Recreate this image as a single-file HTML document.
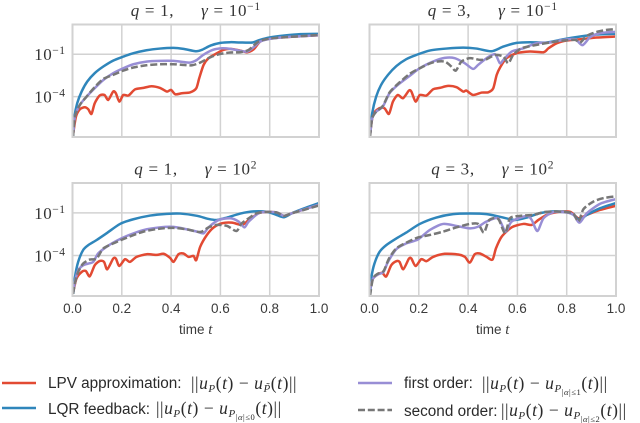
<!DOCTYPE html>
<html>
<head>
<meta charset="utf-8">
<style>
html,body{margin:0;padding:0;background:#fff;}
svg{display:block;}
.tick{font-family:"Liberation Sans",sans-serif;font-size:13.5px;fill:#3a3a3a;}
.ser{font-family:"Liberation Serif",serif;fill:#333;}
.leg{font-family:"Liberation Sans",sans-serif;font-size:15.3px;fill:#2a2a2a;}
.m{font-family:"Liberation Serif",serif;font-size:17.5px;fill:#2a2a2a;letter-spacing:.55px;}
.i{font-style:italic;}
</style>
</head>
<body>
<svg id="chart" width="640" height="423" viewBox="0 0 640 423" xmlns="http://www.w3.org/2000/svg">
  <g id="panels"></g>
  <g>
    <line x1="2" x2="36" y1="383" y2="383" stroke="#E24A33" stroke-width="2.6"/>
    <text x="48" y="388" class="leg">LPV approximation:</text>
    <text x="191" y="389" class="m">||<tspan class="i">u</tspan><tspan class="i" font-size="11" dy="3">P</tspan><tspan dy="-3">(</tspan><tspan class="i">t</tspan>) − <tspan class="i">u</tspan><tspan class="i" font-size="11" dy="3">P̃</tspan><tspan dy="-3">(</tspan><tspan class="i">t</tspan>)||</text>

    <line x1="2" x2="36" y1="408" y2="408" stroke="#2F86BB" stroke-width="2.6"/>
    <text x="48" y="414" class="leg">LQR feedback:</text>
    <text x="156" y="414" class="m">||<tspan class="i">u</tspan><tspan class="i" font-size="11" dy="3">P</tspan><tspan dy="-3">(</tspan><tspan class="i">t</tspan>) − <tspan class="i">u</tspan><tspan class="i" font-size="11" dy="3">P</tspan><tspan font-size="8.5" dy="3">|</tspan><tspan class="i" font-size="8.5">α</tspan><tspan font-size="8.5">|≤0</tspan><tspan dy="-6">(</tspan><tspan class="i">t</tspan>)||</text>

    <line x1="358" x2="392" y1="383" y2="383" stroke="#988ED5" stroke-width="2.6"/>
    <text x="404" y="388" class="leg">first order:</text>
    <text x="482" y="389" class="m">||<tspan class="i">u</tspan><tspan class="i" font-size="11" dy="3">P</tspan><tspan dy="-3">(</tspan><tspan class="i">t</tspan>) − <tspan class="i">u</tspan><tspan class="i" font-size="11" dy="3">P</tspan><tspan font-size="8.5" dy="3">|</tspan><tspan class="i" font-size="8.5">α</tspan><tspan font-size="8.5">|≤1</tspan><tspan dy="-6">(</tspan><tspan class="i">t</tspan>)||</text>

    <line x1="358" x2="392" y1="410" y2="410" stroke="#777777" stroke-width="2.6" stroke-dasharray="7 2.8"/>
    <text x="404" y="416" class="leg">second order:</text>
    <text x="501" y="416" class="m">||<tspan class="i">u</tspan><tspan class="i" font-size="11" dy="3">P</tspan><tspan dy="-3">(</tspan><tspan class="i">t</tspan>) − <tspan class="i">u</tspan><tspan class="i" font-size="11" dy="3">P</tspan><tspan font-size="8.5" dy="3">|</tspan><tspan class="i" font-size="8.5">α</tspan><tspan font-size="8.5">|≤2</tspan><tspan dy="-6">(</tspan><tspan class="i">t</tspan>)||</text>
  </g>
</svg>
<script>
// Axis ticks
const xTicks = [0, 0.2, 0.4, 0.6, 0.8, 1.0];
const xTickLabels = ['0.0', '0.2', '0.4', '0.6', '0.8', '1.0'];
const yTicks = [-1, -4];
const yTickBase = '10';
const yTickExps = ['−1', '−4'];
const yMin = -6.85, yMax = 1.1;

// Panel 1: q = 1, gamma = 10^-1 (values are log10 of the error)
const p1LpvT = [.003,.014,.03,.05,.064,.077,.09,.11,.13,.145,.165,.176,.19,.206,.227,.254,.288,.32,.355,.383,.40,.417,.444,.478,.502,.514,.532,.552,.586,.613,.64,.68,.708,.735,.762,.8,.864,.925,1];
const p1LpvV = [-6.6,-5.41,-4.89,-4.75,-4.89,-5.22,-4.47,-3.92,-3.88,-4.23,-3.64,-3.76,-4.35,-3.88,-3.92,-3.48,-3.38,-3.26,-3.38,-3.64,-3.52,-3.83,-3.76,-3.69,-3.41,-2.7,-1.75,-1.28,-.93,-.69,-.62,-.74,-.86,-.65,-.1,.1,.2,.27,.34];
const p1LqrT = [.002,.008,.019,.037,.06,.09,.125,.165,.206,.247,.30,.355,.41,.45,.5,.525,.56,.60,.64,.68,.73,.76,.80,.86,.925,1];
const p1LqrV = [-6.83,-5.41,-4.47,-3.64,-2.93,-2.34,-1.87,-1.45,-1.17,-.93,-.72,-.60,-.55,-.62,-.79,-.69,-.39,-.2,-.15,-.17,-.17,.01,.18,.32,.42,.44];
const p1FirstT = [.003,.01,.03,.057,.09,.125,.165,.206,.247,.30,.355,.41,.445,.478,.505,.53,.57,.607,.64,.68,.71,.735,.762,.80,.857,.925,1];
const p1FirstV = [-6.6,-5.4,-4.58,-4.0,-3.4,-2.82,-2.34,-1.99,-1.71,-1.52,-1.47,-1.47,-1.54,-1.59,-1.4,-1.05,-.69,-.58,-.62,-.76,-.81,-.5,-.1,.08,.2,.27,.34];
const p1SecondT = [.002,.01,.03,.057,.09,.125,.165,.206,.247,.30,.355,.41,.445,.485,.518,.56,.60,.64,.68,.715,.755,.80,.857,.925,1];
const p1SecondV = [-6.85,-5.4,-4.58,-4.0,-3.33,-2.75,-2.46,-2.16,-1.94,-1.78,-1.71,-1.71,-1.75,-1.78,-1.59,-1.21,-.98,-.88,-.86,-.69,-.1,.1,.2,.27,.37];

// Panel 2: q = 3, gamma = 10^-1
const p2LpvT = [.003,.014,.04,.061,.079,.095,.115,.136,.16,.17,.187,.204,.231,.258,.285,.319,.353,.38,.393,.42,.455,.482,.502,.516,.532,.556,.597,.651,.706,.726,.76,.80,.855,.923,1];
const p2LpvV = [-6.6,-5.29,-4.82,-4.82,-5.22,-4.35,-3.88,-4.11,-3.57,-3.64,-4.35,-3.88,-3.92,-3.48,-3.38,-3.24,-3.33,-3.64,-3.57,-3.88,-3.71,-3.69,-3.41,-2.46,-1.87,-1.28,-.93,-.81,-.86,-.58,-.22,-.03,.06,.18,.25];
const p2LqrT = [.003,.011,.027,.047,.075,.109,.149,.19,.244,.312,.38,.434,.495,.543,.597,.651,.719,.787,.855,.923,1];
const p2LqrV = [-6.59,-5.17,-4,-3.17,-2.46,-1.84,-1.35,-1.05,-.74,-.6,-.53,-.6,-.79,-.46,-.2,-.15,-.17,.06,.25,.39,.44];
const p2FirstT = [.003,.011,.027,.054,.081,.115,.163,.204,.258,.305,.346,.387,.42,.441,.475,.509,.529,.543,.577,.624,.678,.733,.787,.834,.864,.895,.936,1];
const p2FirstV = [-6.6,-5.53,-5.06,-4.7,-3.76,-3.17,-2.53,-1.99,-1.52,-1.26,-1.28,-1.64,-2.04,-1.75,-1.28,-1,-1.64,-1.4,-.81,-.58,-.22,-.17,.01,.06,-.36,.2,.49,.58];
const p2SecondT = [.002,.011,.027,.054,.081,.115,.163,.204,.258,.305,.332,.35,.373,.407,.448,.475,.509,.543,.563,.583,.617,.678,.733,.787,.834,.855,.882,.923,.963,1];
const p2SecondV = [-6.85,-5.53,-5.06,-4.66,-3.71,-3.1,-2.39,-1.99,-1.57,-1.52,-1.87,-2.16,-1.52,-1.28,-1.4,-1.35,-1.05,-1.17,-1.64,-1.05,-.58,-.34,-.17,-.03,.01,-.17,.3,.58,.72,.77];

// Panel 3: q = 1, gamma = 10^2
const p3LpvT = [.003,.016,.037,.054,.07,.09,.111,.128,.141,.165,.176,.19,.213,.233,.26,.301,.342,.369,.396,.41,.43,.45,.471,.491,.502,.518,.545,.573,.607,.647,.688,.715,.756,.79,.83,.858,.891,.939,1];
const p3LpvV = [-6.58,-5.63,-5.16,-5.09,-5.47,-4.69,-4.38,-4.45,-4.97,-4.22,-4.22,-4.74,-4.26,-4.45,-4.1,-3.91,-3.96,-3.88,-4.17,-4.45,-3.91,-3.86,-4.1,-4.03,-4.33,-3.39,-2.56,-2.02,-1.73,-1.69,-1.85,-1.5,-1.02,-.93,-.98,-1.21,-1.02,-.76,-.43];
const p3LqrT = [.003,.01,.023,.043,.064,.098,.138,.193,.247,.315,.383,.437,.505,.552,.586,.627,.681,.735,.79,.824,.858,.891,.939,1];
const p3LqrV = [-6.7,-5.52,-4.45,-3.62,-3.27,-2.91,-2.44,-1.78,-1.45,-1.19,-1.07,-1.05,-1.21,-1.43,-1.5,-1.33,-1.05,-.9,-.93,-1.12,-1.31,-1.02,-.69,-.31];
const p3FirstT = [.003,.011,.023,.043,.064,.084,.104,.138,.172,.22,.288,.355,.41,.464,.505,.532,.552,.593,.64,.674,.697,.715,.756,.79,.83,.858,.891,.939,1];
const p3FirstV = [-6.58,-5.75,-5.04,-4.69,-4.57,-4.45,-3.86,-3.39,-3.03,-2.63,-2.21,-2.02,-1.99,-2.16,-2.32,-2.44,-2.02,-1.5,-1.38,-1.61,-2.02,-1.61,-1.02,-.93,-.98,-1.21,-1.02,-.76,-.43];
const p3SecondT = [.002,.011,.023,.043,.07,.098,.125,.172,.22,.288,.355,.41,.464,.518,.552,.586,.627,.665,.684,.715,.749,.79,.83,.858,.891,.939,1];
const p3SecondV = [-6.7,-5.87,-5.16,-4.57,-4.29,-4.22,-3.51,-3.1,-2.75,-2.32,-2.11,-2.06,-2.16,-2.35,-2.02,-1.85,-1.92,-2.28,-1.78,-1.38,-1.02,-.93,-.98,-1.21,-1.02,-.79,-.48];

// Panel 4: q = 3, gamma = 10^2
const p4LpvT = [.003,.014,.034,.052,.068,.088,.109,.122,.137,.16,.17,.187,.21,.231,.258,.305,.36,.387,.407,.427,.448,.475,.499,.513,.536,.577,.624,.658,.685,.719,.76,.814,.848,.882,.936,1];
const p4LpvV = [-6.34,-5.63,-5.33,-5.23,-5.47,-4.69,-4.4,-4.45,-4.97,-4.22,-4.22,-4.74,-4.26,-4.4,-4.1,-3.88,-3.93,-4.1,-4.5,-3.91,-3.86,-4.1,-4.29,-3.5,-2.68,-2.02,-1.78,-1.85,-1.5,-1.14,-.95,-.93,-1.38,-1.14,-.79,-.5];
const p4LqrT = [.003,.008,.02,.041,.068,.109,.149,.204,.271,.339,.407,.475,.529,.59,.638,.692,.746,.8,.828,.852,.882,.936,1];
const p4LqrV = [-6.7,-5.52,-4.57,-3.74,-3.27,-2.8,-2.39,-1.78,-1.33,-1.09,-1.05,-1.09,-1.28,-1.5,-1.33,-1.02,-.9,-.95,-1.14,-1.5,-1.14,-.67,-.31];
const p4FirstT = [.003,.014,.034,.057,.075,.109,.149,.197,.244,.299,.353,.407,.441,.475,.522,.552,.577,.638,.658,.681,.706,.746,.8,.828,.852,.882,.936,1];
const p4FirstV = [-6.34,-5.63,-5.33,-5.16,-4.45,-3.55,-3.15,-2.87,-2.21,-1.78,-1.92,-2.09,-1.97,-1.61,-1.38,-2.32,-1.61,-1.21,-1.5,-2.28,-1.38,-.95,-.98,-1.14,-1.69,-1.02,-.36,-.03];
const p4SecondT = [.002,.014,.034,.057,.079,.109,.149,.197,.244,.299,.353,.407,.441,.464,.486,.522,.55,.57,.611,.665,.706,.746,.8,.828,.848,.868,.909,.95,1];
const p4SecondV = [-6.85,-5.63,-5.28,-5.1,-4.22,-3.5,-3.1,-2.73,-2.56,-2.32,-2.02,-1.78,-1.78,-2.39,-1.5,-1.43,-2.44,-1.38,-1.21,-1.14,-.95,-.9,-.95,-1.07,-1.61,-.74,-.2,.04,.16];

const panels = [
  {id:'q1-g01', q:'1', gamma:'10', exp:'−1', showY:true,  showX:false, left:72.5,  top:24.5,  bottom:137,
   lpv:[p1LpvT,p1LpvV], lqr:[p1LqrT,p1LqrV], first:[p1FirstT,p1FirstV], second:[p1SecondT,p1SecondV]},
  {id:'q3-g01', q:'3', gamma:'10', exp:'−1', showY:false, showX:false, left:369.5, top:24.5,  bottom:137,
   lpv:[p2LpvT,p2LpvV], lqr:[p2LqrT,p2LqrV], first:[p2FirstT,p2FirstV], second:[p2SecondT,p2SecondV]},
  {id:'q1-g100', q:'1', gamma:'10', exp:'2', showY:true,  showX:true,  left:72.5,  top:183, bottom:296,
   lpv:[p3LpvT,p3LpvV], lqr:[p3LqrT,p3LqrV], first:[p3FirstT,p3FirstV], second:[p3SecondT,p3SecondV]},
  {id:'q3-g100', q:'3', gamma:'10', exp:'2', showY:false, showX:true,  left:369.5, top:183, bottom:296,
   lpv:[p4LpvT,p4LpvV], lqr:[p4LqrT,p4LqrV], first:[p4FirstT,p4FirstV], second:[p4SecondT,p4SecondV]}
];

const SVGNS = 'http://www.w3.org/2000/svg';
const panelWidth = 246.5;
const smoothK = 0.13;
const root = document.getElementById('panels');

function mk(tag, parent, attrs, text) {
  const el = document.createElementNS(SVGNS, tag);
  for (const k in attrs) el.setAttribute(k, attrs[k]);
  if (text !== undefined) el.textContent = text;
  parent.appendChild(el);
  return el;
}

function drawSeries(g, xs, ys, X, Y, color, dash) {
  const px = xs.map(X), py = ys.map(Y), n = xs.length;
  let d = 'M' + px[0].toFixed(2) + ' ' + py[0].toFixed(2);
  for (let i = 0; i < n - 1; i++) {
    const a = Math.max(i - 1, 0), b = Math.min(i + 2, n - 1);
    const c1x = px[i] + (px[i + 1] - px[a]) * smoothK;
    const c1y = py[i] + (py[i + 1] - py[a]) * smoothK;
    const c2x = px[i + 1] - (px[b] - px[i]) * smoothK;
    const c2y = py[i + 1] - (py[b] - py[i]) * smoothK;
    d += 'C' + c1x.toFixed(2) + ' ' + c1y.toFixed(2) + ' ' + c2x.toFixed(2) + ' ' + c2y.toFixed(2) + ' ' + px[i + 1].toFixed(2) + ' ' + py[i + 1].toFixed(2);
  }
  const attrs = {d:d, fill:'none', stroke:color, 'stroke-width':'2.5', 'stroke-linejoin':'round'};
  if (dash) attrs['stroke-dasharray'] = dash;
  return mk('path', g, attrs);
}

panels.forEach(function (p) {
  const X = function (t) { return p.left + t * panelWidth; };
  const Y = function (v) { return p.top + (yMax - v) / (yMax - yMin) * (p.bottom - p.top); };

  const g = mk('g', root, {});
  
  

  // grid
  xTicks.slice(1, -1).forEach(function (t) {
    const l = mk('line', g, {x1:X(t), x2:X(t), y1:p.top, y2:p.bottom, stroke:'#d2d2d2', 'stroke-width':'1.5'});
    
    
  });
  yTicks.forEach(function (v) {
    const l = mk('line', g, {x1:p.left, x2:p.left + panelWidth, y1:Y(v), y2:Y(v), stroke:'#d2d2d2', 'stroke-width':'1.5'});
    
    
  });

  // series
  const s1 = drawSeries(g, p.lpv[0], p.lpv[1], X, Y, '#E24A33');
  
  
  const s2 = drawSeries(g, p.lqr[0], p.lqr[1], X, Y, '#2F86BB');
  
  
  const s3 = drawSeries(g, p.first[0], p.first[1], X, Y, '#988ED5');
  
  
  const s4 = drawSeries(g, p.second[0], p.second[1], X, Y, '#777777', '7 2.8');
  
  

  // frame
  const fr = mk('rect', g, {x:p.left, y:p.top, width:panelWidth, height:p.bottom - p.top, fill:'none', stroke:'#d2d2d2', 'stroke-width':'2'});
  
  

  // title
  const title = mk('text', g, {x:p.left + panelWidth / 2, y:p.top - 8.5, 'text-anchor':'middle', 'font-size':'17', 'letter-spacing':'0.7', 'class':'ser'});
  
  
  mk('tspan', title, {'font-style':'italic'}, 'q');
  mk('tspan', title, {}, ' = ' + p.q + ',\u2003\u2002');
  mk('tspan', title, {'font-style':'italic'}, 'γ');
  mk('tspan', title, {}, ' = ' + p.gamma);
  mk('tspan', title, {'font-size':'11.5', dy:'-6'}, p.exp);

  // y tick labels
  if (p.showY) {
    yTicks.forEach(function (v, i) {
      const t = mk('text', g, {x:p.left - 7, y:Y(v) + 6, 'text-anchor':'end', 'font-size':'17', 'letter-spacing':'0.5', 'class':'ser'});
      
      
      mk('tspan', t, {}, yTickBase);
      mk('tspan', t, {'font-size':'11.5', dy:'-6'}, yTickExps[i]);
    });
  }

  // x tick labels and axis title
  if (p.showX) {
    xTicks.forEach(function (t, i) {
      const lb = mk('text', g, {x:X(t), y:p.bottom + 17, 'text-anchor':'middle', 'class':'tick'}, xTickLabels[i]);
      
      
    });
    const xt = mk('text', g, {x:p.left + panelWidth / 2, y:p.bottom + 38, 'text-anchor':'middle', 'class':'tick'});
    
    
    mk('tspan', xt, {}, 'time ');
    mk('tspan', xt, {'font-family':'Liberation Serif, serif', 'font-style':'italic', 'font-size':'15'}, 't');
  }
});
</script>
</body>
</html>
